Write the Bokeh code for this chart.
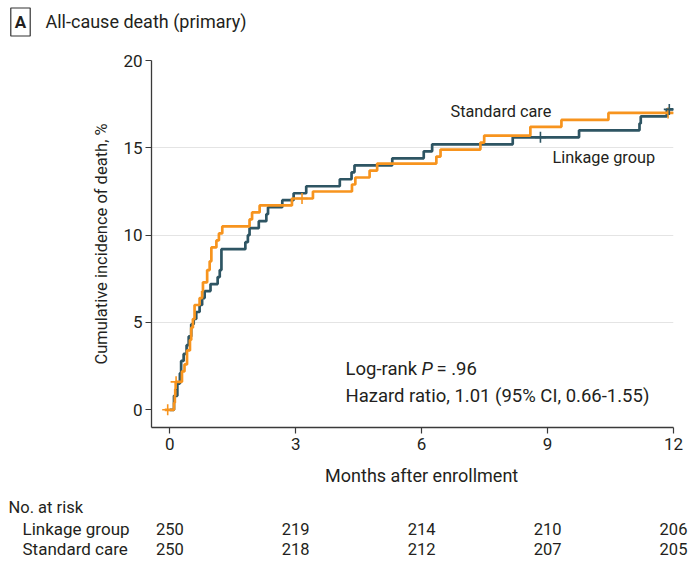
from bokeh.plotting import figure
from bokeh.models import Label, Range1d, FixedTicker
from bokeh.layouts import column
from bokeh.embed import file_html
from bokeh.resources import INLINE

# ---------------- data ----------------
linkage_t = [0.00, 0.10, 0.18, 0.24, 0.27, 0.33, 0.40, 0.45, 0.51, 0.57, 0.63,
             0.71, 0.77, 0.83, 0.97, 1.14, 1.19, 1.23, 1.80, 1.86, 1.90, 2.12,
             2.30, 2.34, 2.68, 2.95, 3.25, 4.05, 4.33, 4.40, 5.30, 6.05, 6.25,
             8.17, 9.75, 11.19, 11.22, 11.84, 12.00]
linkage_pct = [0.0, 0.8, 1.5, 2.1, 2.8, 3.2, 3.7, 4.2, 4.9, 5.2, 5.6,
               6.0, 6.4, 6.8, 7.2, 7.6, 8.0, 9.2, 9.6, 10.0, 10.4, 10.8,
               11.2, 11.6, 12.0, 12.4, 12.8, 13.2, 13.6, 14.0, 14.4, 14.8, 15.2,
               15.6, 16.0, 16.4, 16.8, 17.2, 17.2]

standard_t = [-0.12, 0.10, 0.12, 0.13, 0.14, 0.29, 0.35, 0.41, 0.48, 0.51, 0.55,
              0.59, 0.71, 0.77, 0.79, 0.89, 0.95, 0.99, 1.11, 1.17, 1.25, 1.90,
              1.96, 2.14, 2.91, 3.41, 4.34, 4.42, 4.76, 4.94, 6.35, 6.45, 7.40,
              7.49, 8.59, 9.33, 10.45, 12.00]
standard_pct = [0.0, 0.4, 0.8, 1.2, 1.6, 2.2, 2.6, 3.4, 4.0, 4.7, 5.2,
                6.0, 6.4, 6.8, 7.3, 8.0, 8.5, 9.3, 9.7, 10.1, 10.5, 10.9,
                11.3, 11.7, 12.1, 12.5, 12.9, 13.3, 13.7, 14.1, 14.5, 14.9, 15.3,
                15.7, 16.2, 16.6, 17.0, 17.0]

linkage_cens_t = [8.83, 11.90]
linkage_cens_pct = [15.6, 17.2]
standard_cens_t = [-0.05, 0.15, 3.15, 11.87]
standard_cens_pct = [0.0, 1.6, 12.1, 17.0]

x_ticks = [0, 3, 6, 9, 12]
y_ticks = [0, 5, 10, 15, 20]
grid_ticks = [5, 10, 15, 20]
risk_linkage = [250, 219, 214, 210, 206]
risk_standard = [250, 218, 212, 207, 205]

# ---------------- styling / layout ----------------
FONT = "Roboto"
DARK = "#2e5563"
ORANGE = "#f7941e"
TXT = "#231f20"
AXIS = "#3a3a3a"

W = 699
TOP_H = 48                       # title strip
MAIN_TOP, FRAME_TOP, FRAME_BOT, MAIN_BOT = 48, 60, 427, 462
BOT_H = 564 - MAIN_BOT           # x-axis title + risk table strip
L, R = 151, 26
X0, X1 = -0.436, 12.0
Y0, Y1 = -1.013, 20.0

def fx(px):
    """page x pixel -> months (shared by main plot and risk table)"""
    return X0 + (px - L) / (W - L - R) * (X1 - X0)

def fy(py):
    """page y pixel -> percent (main plot)"""
    return Y1 - (py - FRAME_TOP) / (FRAME_BOT - FRAME_TOP) * (Y1 - Y0)

def strip(height, x_range):
    f = figure(width=W, height=height, x_range=x_range, y_range=Range1d(height, 0),
               output_backend="svg", toolbar_location=None, frame_align=False,
               min_border=0, min_border_left=0, min_border_right=0,
               min_border_top=0, min_border_bottom=0)
    f.axis.visible = False
    f.grid.visible = False
    f.outline_line_color = None
    return f

# ---- title strip ----
top = strip(TOP_H, Range1d(0, W))
top.add_layout(Label(x=20, y=21.5, text="A", text_font=FONT, text_font_size="17px",
                     text_font_style="bold", text_color=TXT, text_align="center",
                     text_baseline="middle", border_line_color="#333333",
                     border_line_width=1.2, padding=4))
top.add_layout(Label(x=45, y=21, text="All-cause death (primary)", text_font=FONT,
                     text_font_size="18px", text_color=TXT, text_align="left",
                     text_baseline="middle"))

# ---- main plot ----
p = figure(width=W, height=MAIN_BOT - MAIN_TOP,
           x_range=Range1d(X0, X1), y_range=Range1d(Y0, Y1),
           output_backend="svg", toolbar_location=None, frame_align=False,
           min_border_left=L, min_border_right=R,
           min_border_top=FRAME_TOP - MAIN_TOP, min_border_bottom=MAIN_BOT - FRAME_BOT)
p.outline_line_color = None
p.xgrid.visible = False
p.ygrid.ticker = FixedTicker(ticks=grid_ticks)
p.ygrid.grid_line_color = "#e4e4e4"
p.ygrid.grid_line_width = 1.2

for ax in (p.xaxis[0], p.yaxis[0]):
    ax.axis_line_color = AXIS
    ax.axis_line_width = 1.3
    ax.major_tick_line_color = AXIS
    ax.major_tick_line_width = 1.2
    ax.major_tick_out = 6
    ax.major_tick_in = 0
    ax.minor_tick_line_color = None
    ax.major_label_text_font = FONT
    ax.major_label_text_font_size = "17px"
    ax.major_label_text_color = TXT
    ax.axis_label_text_font = FONT
    ax.axis_label_text_font_style = "normal"
    ax.axis_label_text_color = TXT

p.xaxis.ticker = FixedTicker(ticks=x_ticks)
p.yaxis.ticker = FixedTicker(ticks=y_ticks)
p.yaxis.axis_label = "Cumulative incidence of death, %"
p.yaxis.axis_label_text_font_size = "16.5px"
p.xaxis.major_label_standoff = 4
p.yaxis.major_label_standoff = 3
p.yaxis.axis_label_standoff = 9

p.step(linkage_t, linkage_pct, mode="after", line_color=DARK, line_width=2.7)
p.step(standard_t, standard_pct, mode="after", line_color=ORANGE, line_width=2.7)
p.scatter(standard_cens_t, standard_cens_pct, marker="cross", size=11,
          line_color=ORANGE, line_width=1.6)
p.scatter(linkage_cens_t, linkage_cens_pct, marker="cross", size=11,
          line_color=DARK, line_width=1.6)

def lab(text, px, py, size="16px", style="normal"):
    p.add_layout(Label(x=fx(px), y=fy(py), text=text, text_font=FONT,
                       text_font_size=size, text_color=TXT, text_align="left",
                       text_baseline="middle", text_font_style=style))

lab("Standard care", 450, 111, size="16.3px")
lab("Linkage group", 552, 157, size="16.3px")
lab("Log-rank", 345, 368, size="18.5px")
lab("P", 421, 368, size="18.5px", style="italic")
lab("= .96", 436, 368, size="18.5px")
lab("Hazard ratio, 1.01 (95% CI, 0.66-1.55)", 345, 395, size="18.5px")

# ---- x-axis title + risk table strip (x in months, aligned with the main axis) ----
bot = strip(BOT_H, Range1d(fx(0), fx(W)))
def blab(text, x, y, align="left", size="16.5px"):
    bot.add_layout(Label(x=x, y=y, text=text, text_font=FONT, text_font_size=size,
                         text_color=TXT, text_align=align, text_baseline="middle"))
blab("Months after enrollment", (x_ticks[0] + x_ticks[-1]) / 2, 475 - MAIN_BOT,
     align="center", size="18px")
blab("No. at risk", fx(8), 507 - MAIN_BOT)
blab("Linkage group", fx(22), 528 - MAIN_BOT, size="17px")
blab("Standard care", fx(22), 548 - MAIN_BOT, size="17px")
for xt, a, b in zip(x_ticks, risk_linkage, risk_standard):
    blab(str(a), xt, 528 - MAIN_BOT, align="center")
    blab(str(b), xt, 548 - MAIN_BOT, align="center")

layout = column(top, p, bot, spacing=0)
open("out.html", "w").write(file_html(layout, INLINE))
